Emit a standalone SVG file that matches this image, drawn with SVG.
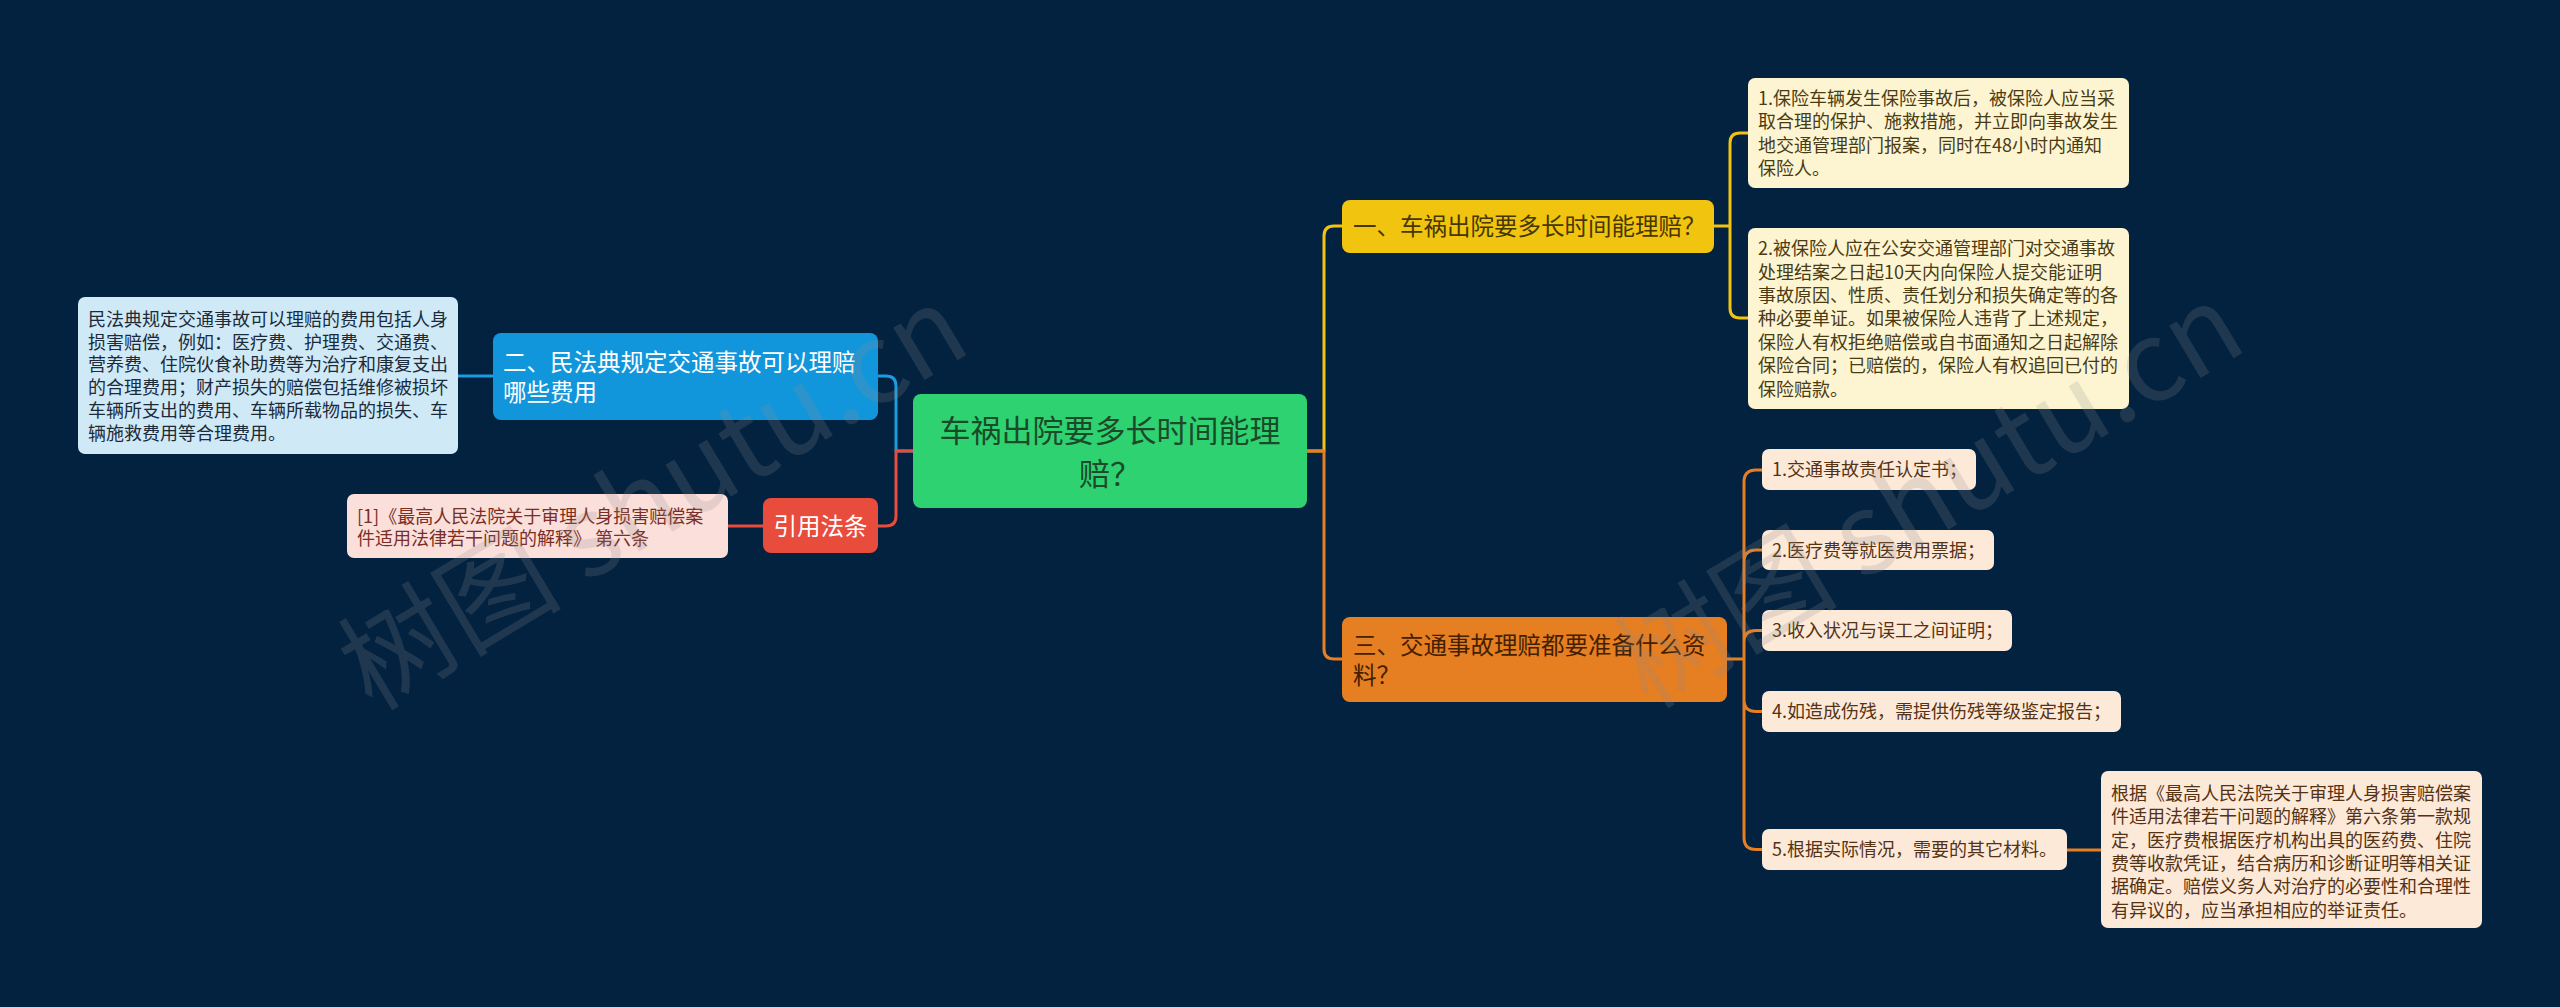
<svg xmlns="http://www.w3.org/2000/svg" width="2560" height="1007" viewBox="0 0 2560 1007">
<style>
text{font-family:"Noto Sans CJK SC","Noto Sans",sans-serif;}
.t18{font-size:18px;}
.t23{font-size:23.5px;}
.t31{font-size:31px;}
.ln{fill:none;stroke-width:3;stroke-linecap:round;stroke-linejoin:round;}
.wm{font-size:112px;fill:#8c8c8c;fill-opacity:0.21;}
</style>
<rect x="0" y="0" width="2560" height="1007" fill="#022240"/>

<g id="connectors">
  <path class="ln" stroke="#f1c40f" d="M1307,451 H1324 V236 Q1324,226 1334,226 H1342"/>
  <path class="ln" stroke="#e67e22" d="M1307,451 H1324 V649 Q1324,659 1334,659 H1342"/>
  <path class="ln" stroke="#1b9be0" d="M913,451 H896 V386 Q896,376 886,376 H878"/>
  <path class="ln" stroke="#e74c3c" d="M913,451 H896 V516 Q896,526 886,526 H878"/>
  <path class="ln" stroke="#1b9be0" d="M493,376 H458"/>
  <path class="ln" stroke="#e74c3c" d="M763,526 H728"/>
  <path class="ln" stroke="#f1c40f" d="M1714,226 H1730 V143 Q1730,133 1740,133 H1748 M1730,226 V308 Q1730,318 1740,318 H1748"/>
  <path class="ln" stroke="#e67e22" d="M1727,659 H1744 M1744,659 V482 Q1744,470 1756,470 H1762 M1744,562 Q1744,550 1756,550 H1762 M1744,642 Q1744,630.5 1756,630.5 H1762 M1744,659 V699.5 Q1744,711.5 1756,711.5 H1762 M1744,699 V837.5 Q1744,849.5 1756,849.5 H1762"/>
  <path class="ln" stroke="#e67e22" d="M2067,850 H2101"/>
</g>

<g id="root">
  <rect x="913" y="394" width="394" height="114" rx="8" fill="#2fd271"/>
  <text class="t31" fill="#1b4a2a" text-anchor="middle"><tspan x="1110" y="441.5">车祸出院要多长时间能理</tspan><tspan x="1110" y="484.5">赔？</tspan></text>
</g>

<g id="n-blue">
  <rect x="493" y="333" width="385" height="87" rx="8" fill="#1296db"/>
  <text class="t23" fill="#ffffff"><tspan x="503" y="370.5">二、民法典规定交通事故可以理赔</tspan><tspan x="503" y="400.5">哪些费用</tspan></text>
</g>

<g id="n-blue-detail">
  <rect x="78" y="297" width="380" height="157" rx="7" fill="#cfe9f7"/>
  <text class="t18" fill="#1c2b3a">
    <tspan x="88" y="326">民法典规定交通事故可以理赔的费用包括人身</tspan>
    <tspan x="88" y="348.7">损害赔偿，例如：医疗费、护理费、交通费、</tspan>
    <tspan x="88" y="371.4">营养费、住院伙食补助费等为治疗和康复支出</tspan>
    <tspan x="88" y="394.1">的合理费用；财产损失的赔偿包括维修被损坏</tspan>
    <tspan x="88" y="416.8">车辆所支出的费用、车辆所载物品的损失、车</tspan>
    <tspan x="88" y="439.5">辆施救费用等合理费用。</tspan>
  </text>
</g>

<g id="n-red">
  <rect x="763" y="498" width="115" height="55" rx="8" fill="#e74c3c"/>
  <text class="t23" fill="#ffffff" text-anchor="middle" x="820.5" y="534.5">引用法条</text>
</g>

<g id="n-red-detail">
  <rect x="347" y="494" width="381" height="64" rx="7" fill="#fbdfdb"/>
  <text class="t18" fill="#7a2e24"><tspan x="357" y="522.8">[1]《最高人民法院关于审理人身损害赔偿案</tspan><tspan x="357" y="544.8">件适用法律若干问题的解释》 第六条</tspan></text>
</g>

<g id="n-yellow">
  <rect x="1342" y="200" width="372" height="53" rx="8" fill="#f1c40f"/>
  <text class="t23" fill="#463700" x="1353" y="235">一、车祸出院要多长时间能理赔？</text>
</g>

<g id="n-yellow-1">
  <rect x="1748" y="78" width="381" height="110" rx="7" fill="#fdf5d2"/>
  <text class="t18" fill="#4b3b12">
    <tspan x="1758" y="104.7">1.保险车辆发生保险事故后，被保险人应当采</tspan>
    <tspan x="1758" y="128.1">取合理的保护、施救措施，并立即向事故发生</tspan>
    <tspan x="1758" y="151.5">地交通管理部门报案，同时在48小时内通知</tspan>
    <tspan x="1758" y="174.9">保险人。</tspan>
  </text>
</g>

<g id="n-yellow-2">
  <rect x="1748" y="228" width="381" height="181" rx="7" fill="#fdf5d2"/>
  <text class="t18" fill="#4b3b12">
    <tspan x="1758" y="255.1">2.被保险人应在公安交通管理部门对交通事故</tspan>
    <tspan x="1758" y="278.5">处理结案之日起10天内向保险人提交能证明</tspan>
    <tspan x="1758" y="301.9">事故原因、性质、责任划分和损失确定等的各</tspan>
    <tspan x="1758" y="325.3">种必要单证。如果被保险人违背了上述规定，</tspan>
    <tspan x="1758" y="348.7">保险人有权拒绝赔偿或自书面通知之日起解除</tspan>
    <tspan x="1758" y="372.1">保险合同；已赔偿的，保险人有权追回已付的</tspan>
    <tspan x="1758" y="395.5">保险赔款。</tspan>
  </text>
</g>

<g id="n-orange">
  <rect x="1342" y="617" width="385" height="85" rx="8" fill="#e67e22"/>
  <text class="t23" fill="#432000"><tspan x="1353" y="653.5">三、交通事故理赔都要准备什么资</tspan><tspan x="1353" y="683.5">料？</tspan></text>
</g>

<g id="n-orange-1">
  <rect x="1762" y="449" width="214" height="41" rx="7" fill="#fce9d8"/>
  <text class="t18" fill="#553214" x="1772" y="476.3">1.交通事故责任认定书；</text>
</g>
<g id="n-orange-2">
  <rect x="1762" y="530" width="232" height="40" rx="7" fill="#fce9d8"/>
  <text class="t18" fill="#553214" x="1772" y="556.8">2.医疗费等就医费用票据；</text>
</g>
<g id="n-orange-3">
  <rect x="1762" y="610" width="250" height="41" rx="7" fill="#fce9d8"/>
  <text class="t18" fill="#553214" x="1772" y="637.3">3.收入状况与误工之间证明；</text>
</g>
<g id="n-orange-4">
  <rect x="1762" y="691" width="359" height="41" rx="7" fill="#fce9d8"/>
  <text class="t18" fill="#553214" x="1772" y="718.3">4.如造成伤残，需提供伤残等级鉴定报告；</text>
</g>
<g id="n-orange-5">
  <rect x="1762" y="829" width="305" height="41" rx="7" fill="#fce9d8"/>
  <text class="t18" fill="#553214" x="1772" y="856.3">5.根据实际情况，需要的其它材料。</text>
</g>
<g id="n-orange-5-detail">
  <rect x="2101" y="771" width="381" height="157" rx="7" fill="#fce9d8"/>
  <text class="t18" fill="#553214">
    <tspan x="2111" y="799.8">根据《最高人民法院关于审理人身损害赔偿案</tspan>
    <tspan x="2111" y="823.2">件适用法律若干问题的解释》第六条第一款规</tspan>
    <tspan x="2111" y="846.6">定，医疗费根据医疗机构出具的医药费、住院</tspan>
    <tspan x="2111" y="870">费等收款凭证，结合病历和诊断证明等相关证</tspan>
    <tspan x="2111" y="893.4">据确定。赔偿义务人对治疗的必要性和合理性</tspan>
    <tspan x="2111" y="916.8">有异议的，应当承担相应的举证责任。</tspan>
  </text>
</g>

<g id="watermarks">
  <text class="wm" transform="translate(372,712) rotate(-31)">树图 shutu.cn</text>
  <text class="wm" transform="translate(1648,710) rotate(-31)">树图 shutu.cn</text>
</g>
</svg>
